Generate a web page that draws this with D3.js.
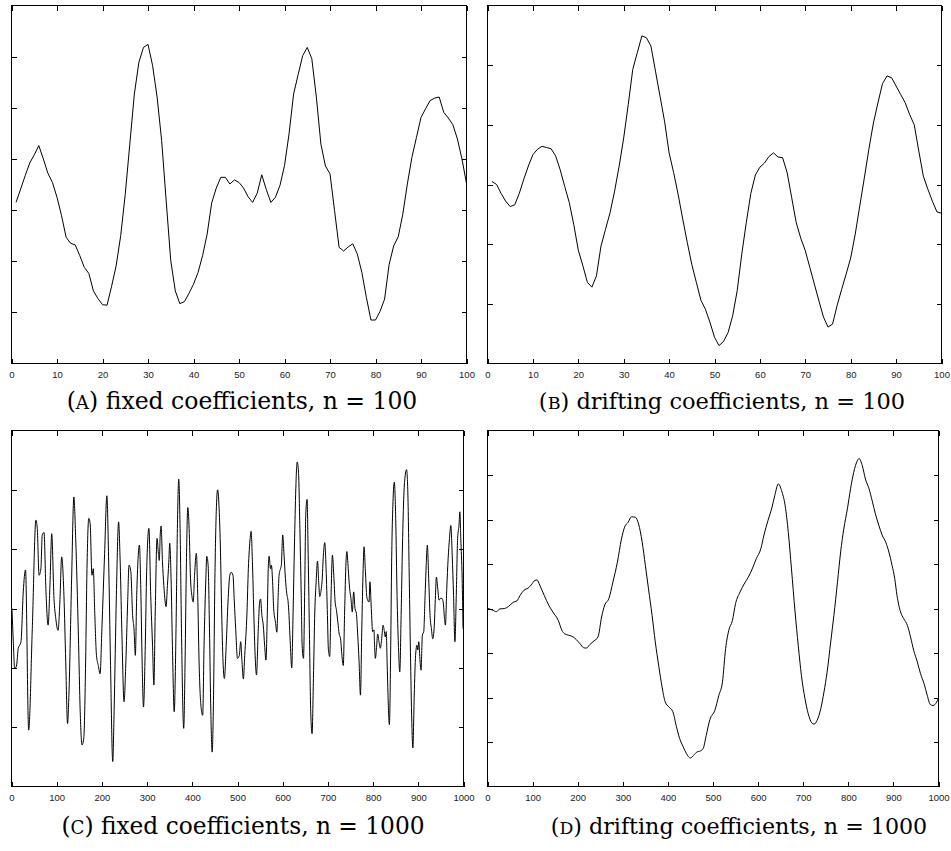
<!DOCTYPE html>
<html>
<head>
<meta charset="utf-8">
<script src="https://cdn.jsdelivr.net/npm/d3@7"></script>
<style>
  body { margin: 0; background: #fff; }
  svg { display: block; }
  .tick text { font-family: "Liberation Sans", Arial, sans-serif; font-size: 9.5px; fill: #222; }
  .caption { font-family: "DejaVu Serif", serif; fill: #000; }
</style>
</head>
<body>
<svg width="951" height="851"></svg>
<script>
// (A) fixed coefficients, n = 100  -> one value per step 1..100
const aValues = [
  3.15,3.41,3.67,3.92,4.08,4.26,4.0,3.72,3.54,3.25,
  2.89,2.47,2.35,2.32,2.11,1.88,1.76,1.42,1.27,1.15,
  1.14,1.51,1.91,2.5,3.31,4.29,5.27,5.89,6.18,6.24,
  5.83,5.21,4.36,3.18,2.01,1.42,1.17,1.21,1.37,1.55,
  1.78,2.11,2.53,3.14,3.43,3.64,3.64,3.51,3.59,3.54,
  3.43,3.26,3.15,3.33,3.69,3.4,3.15,3.25,3.48,3.87,
  4.49,5.27,5.65,6.02,6.18,5.96,5.21,4.29,3.86,3.71,
  2.99,2.27,2.2,2.28,2.34,2.14,1.78,1.29,0.85,0.85,
  1.02,1.26,1.94,2.3,2.48,2.92,3.51,4.03,4.42,4.81,
  4.98,5.14,5.19,5.21,4.91,4.8,4.67,4.39,4.0,3.52
];

// (B) drifting coefficients, n = 100
const bValues = [
  3.05,3.0,2.85,2.72,2.63,2.66,2.85,3.09,3.31,3.5,
  3.59,3.64,3.62,3.6,3.48,3.25,2.97,2.7,2.33,1.9,
  1.64,1.36,1.28,1.47,1.97,2.25,2.53,2.89,3.31,3.78,
  4.34,4.93,5.21,5.49,5.46,5.32,4.9,4.48,4.06,3.53,
  3.2,2.83,2.42,2.03,1.66,1.36,1.06,0.91,0.69,0.44,
  0.3,0.37,0.52,0.8,1.22,1.83,2.36,2.85,3.16,3.29,
  3.36,3.47,3.53,3.46,3.45,3.2,2.78,2.36,2.1,1.89,
  1.61,1.33,1.05,0.78,0.61,0.66,0.97,1.24,1.5,1.77,
  2.17,2.64,3.11,3.59,4.03,4.37,4.69,4.82,4.79,4.65,
  4.51,4.37,4.17,4.0,3.56,3.14,2.92,2.72,2.54,2.52
];

// (C) fixed coefficients, n = 1000 (read at the turning points)
const cSteps = [
  1,4,7,11,15,18,21,26,31,38,46,54,57,61,65,68,72,76,81,85,89,94,98,103,107,111,116,120,124,127,
  133,138,142,148,152,156,160,164,167,171,174,178,181,184,188,192,196,200,206,211,215,219,224,227,232,237,240,244,249,
  253,257,260,264,268,271,274,277,280,283,286,289,292,296,299,304,308,312,315,318,322,325,327,329,331,334,337,340,342,345,348,350,
  353,356,360,364,367,370,373,376,381,384,387,390,393,396,399,402,405,409,412,415,419,423,426,430,432,435,438,441,444,447,450,
  453,456,459,462,465,468,471,475,479,483,486,490,493,496,500,504,507,510,513,516,521,524,528,530,533,536,539,542,546,549,551,
  554,557,560,563,566,568,570,573,575,578,580,584,587,590,592,595,597,600,603,606,609,612,614,615,617,620,623,626,629,632,635,
  638,641,643,646,649,651,654,656,659,662,665,668,671,674,677,680,682,685,687,690,693,696,699,701,704,707,710,713,716,719,722,
  725,728,731,734,737,740,742,745,748,751,754,757,760,763,766,769,772,775,778,780,783,786,788,791,793,796,799,802,803,805,808,
  810,813,816,819,822,825,827,829,831,833,836,839,841,844,847,850,853,856,859,862,865,868,871,874,877,880,883,886,888,891,894,
  897,899,901,904,906,909,912,915,917,920,923,926,929,932,935,938,940,943,946,949,952,955,958,960,963,966,969,972,975,978,981,
  984,987,990,992,994,997,999
];
const cValues = [
  3.0,2.44,1.99,2.03,2.33,2.38,2.44,3.28,3.65,0.95,2.66,4.49,4.35,3.56,3.67,4.24,4.28,3.34,2.72,3.38,4.26,3.17,2.83,2.63,3.11,3.87,3.22,2.1,1.06,1.54,
  3.5,4.88,4.18,2.55,1.26,0.70,0.82,2.1,3.67,4.52,4.43,3.56,3.67,2.97,2.21,2.04,1.9,2.66,3.93,4.9,3.78,2.1,0.42,1.26,3.22,4.46,3.9,2.66,1.43,
  2.1,3.11,3.73,3.62,2.88,2.66,2.21,3.22,3.84,4.07,3.34,2.1,1.34,2.38,3.62,4.35,3.22,2.38,1.71,2.94,4.18,3.93,3.81,4.24,4.39,3.79,3.39,3.11,3.03,3.39,3.78,4.1,
  3.51,2.38,1.26,2.66,4.35,5.18,4.35,2.66,0.98,2.1,3.78,4.7,4.35,3.51,3.22,3.11,3.56,3.93,3.22,2.1,1.37,1.2,2.38,3.51,3.88,3.73,2.66,1.26,0.58,1.54,3.51,
  4.63,5.0,4.74,4.07,2.94,2.1,1.82,2.38,3.11,3.56,3.61,3.56,3.11,2.66,2.16,2.21,2.44,2.1,1.81,2.21,2.94,3.67,4.18,4.3,3.79,2.94,2.21,1.88,2.66,3.11,3.16,
  2.88,2.72,2.38,2.13,2.94,3.67,3.88,3.67,3.73,3.39,3.0,2.77,2.6,3.22,3.56,3.67,3.73,4.24,3.9,3.51,3.25,3.11,2.88,2.71,2.38,2.0,2.94,4.07,5.02,5.47,5.3,
  4.35,3.22,2.38,2.16,3.51,4.58,4.84,4.07,2.66,1.26,0.89,1.82,2.94,3.45,3.8,3.39,3.2,3.31,3.45,3.9,4.11,3.67,2.88,2.32,2.19,3.22,3.9,3.56,3.11,2.97,2.77,
  2.57,2.49,2.21,2.04,2.94,3.78,3.96,3.67,3.34,3.17,2.94,3.28,3.0,2.92,2.55,2.1,1.54,2.66,3.67,4.04,3.62,3.2,3.14,3.11,3.45,3.0,2.61,2.64,2.44,2.16,2.38,
  2.57,2.44,2.33,2.49,2.72,2.61,2.52,2.61,2.1,1.54,1.04,2.38,3.78,4.8,5.13,4.52,3.22,2.38,1.93,2.88,4.07,4.91,5.24,5.34,4.91,3.51,2.1,0.98,0.65,1.54,2.21,
  2.38,2.3,2.44,2.1,1.96,2.55,2.61,3.22,3.63,4.07,3.51,2.88,2.66,2.49,2.66,3.22,3.53,3.34,3.14,3.17,3.17,3.11,2.83,2.72,3.34,3.84,4.18,4.4,3.9,3.22,2.44,
  3.22,4.18,4.4,4.63,4.18,3.51,2.66
];

// (D) drifting coefficients, n = 1000
const dSteps = [
  1,10,20,27,38,47,57,65,72,81,90,97,105,110,116,126,136,145,157,165,171,180,190,197,205,213,219,227,236,245,
  253,260,269,278,288,297,304,312,319,328,335,343,350,357,365,372,380,387,394,402,411,419,426,434,441,450,457,465,470,478,
  485,493,504,513,521,528,535,543,550,560,569,578,587,596,606,613,622,631,637,645,652,660,667,674,682,689,696,704,711,719,
  724,731,739,746,753,761,768,776,783,790,798,805,812,820,824,831,838,846,853,860,868,875,883,890,897,903,908,916,923,931,
  938,945,953,960,968,975,982,988,996,1000
];
const dValues = [
  4.0,3.97,3.93,3.99,4.0,4.05,4.14,4.17,4.29,4.41,4.46,4.53,4.63,4.64,4.52,4.29,4.07,3.92,3.73,3.51,3.43,3.4,3.36,3.3,3.21,3.12,3.11,3.19,3.27,3.36,
  3.81,4.08,4.22,4.59,5.04,5.56,5.83,5.94,6.06,6.05,5.9,5.49,4.97,4.44,3.84,3.25,2.69,2.24,1.9,1.79,1.68,1.34,1.08,0.89,0.74,0.64,0.7,0.78,0.79,0.85,
  1.15,1.5,1.71,2.05,2.35,3.1,3.51,3.73,4.11,4.37,4.55,4.7,4.89,5.12,5.34,5.65,5.98,6.28,6.54,6.8,6.65,6.31,5.71,4.89,3.92,3.17,2.5,1.97,1.64,1.43,
  1.4,1.49,1.75,2.12,2.57,3.25,3.84,4.59,5.27,5.79,6.24,6.69,7.06,7.32,7.37,7.21,6.91,6.69,6.42,6.13,5.86,5.65,5.49,5.27,4.97,4.67,4.29,3.92,3.77,3.62,
  3.36,3.06,2.8,2.54,2.31,2.05,1.84,1.82,1.9,1.99
];

const xTicksSmall = [0,10,20,30,40,50,60,70,80,90,100];
const xTicksLarge = [0,100,200,300,400,500,600,700,800,900,1000];

const svg = d3.select("svg");

const panels = [
  {x: aValues.map((v, i) => i + 1), y: aValues, xMax: 100, xTicks: xTicksSmall, yMax: 7,
   left: 11, right: 466, top: 5, bottom: 363, label: "A", text: ") fixed coefficients, n = 100",
   capX: 242, capY: 409, capSize: 23.5, curve: d3.curveLinear},
  {x: bValues.map((v, i) => i + 1), y: bValues, xMax: 100, xTicks: xTicksSmall, yMax: 6,
   left: 487, right: 941, top: 5, bottom: 363, label: "B", text: ") drifting coefficients, n = 100",
   capX: 722, capY: 409, capSize: 22.5, curve: d3.curveLinear},
  {x: cSteps, y: cValues, xMax: 1000, xTicks: xTicksLarge, yMax: 6,
   left: 11, right: 463, top: 430, bottom: 786, label: "C", text: ") fixed coefficients, n = 1000",
   capX: 243, capY: 834, capSize: 23.3, curve: d3.curveMonotoneX},
  {x: dSteps, y: dValues, xMax: 1000, xTicks: xTicksLarge, yMax: 8,
   left: 487, right: 938, top: 430, bottom: 786, label: "D", text: ") drifting coefficients, n = 1000",
   capX: 739, capY: 834, capSize: 22.2, curve: d3.curveMonotoneX}
];

panels.forEach(drawPanel);

function drawPanel(p) {
  const x = d3.scaleLinear().domain([0, p.xMax]).range([p.left + 0.5, p.right + 0.5]);
  const y = d3.scaleLinear().domain([0, p.yMax]).range([p.bottom + 0.5, p.top + 0.5]);
  const yTicks = d3.range(1, p.yMax);

  const g = svg.append("g");

  // frame
  g.append("rect")
    .attr("x", p.left + 0.5)
    .attr("y", p.top + 0.5)
    .attr("width", p.right - p.left)
    .attr("height", p.bottom - p.top)
    .attr("fill", "none")
    .attr("stroke", "#000")
    .attr("stroke-width", 1)
    .attr("shape-rendering", "crispEdges");

  // ticks point inward on all four sides
  const axes = [
    {axis: d3.axisBottom(x).tickValues(p.xTicks).tickFormat(d3.format("d")), t: `translate(0,${p.bottom + 0.5})`},
    {axis: d3.axisTop(x).tickValues(p.xTicks).tickFormat(""), t: `translate(0,${p.top + 0.5})`},
    {axis: d3.axisLeft(y).tickValues(yTicks).tickFormat(""), t: `translate(${p.left + 0.5},0)`},
    {axis: d3.axisRight(y).tickValues(yTicks).tickFormat(""), t: `translate(${p.right + 0.5},0)`}
  ];
  axes.forEach(a => {
    const ag = g.append("g")
      .attr("transform", a.t)
      .call(a.axis.tickSizeInner(-5).tickSizeOuter(0).tickPadding(8));
    ag.select(".domain").remove();
    ag.selectAll("line").attr("stroke", "#000").attr("shape-rendering", "crispEdges");
  });

  const line = d3.line()
    .x((d, i) => x(p.x[i]))
    .y(d => y(d))
    .curve(p.curve);

  g.append("path")
    .datum(p.y)
    .attr("fill", "none")
    .attr("stroke", "#000")
    .attr("stroke-width", 1)
    .attr("stroke-linejoin", "round")
    .attr("d", line);

  const cap = g.append("text")
    .classed("caption", true)
    .style("font-size", p.capSize + "px")
    .attr("x", p.capX)
    .attr("y", p.capY)
    .attr("text-anchor", "middle");
  cap.append("tspan").text("(");
  cap.append("tspan").style("font-size", "0.78em").text(p.label);
  cap.append("tspan").text(p.text);
}
</script>
</body>
</html>
